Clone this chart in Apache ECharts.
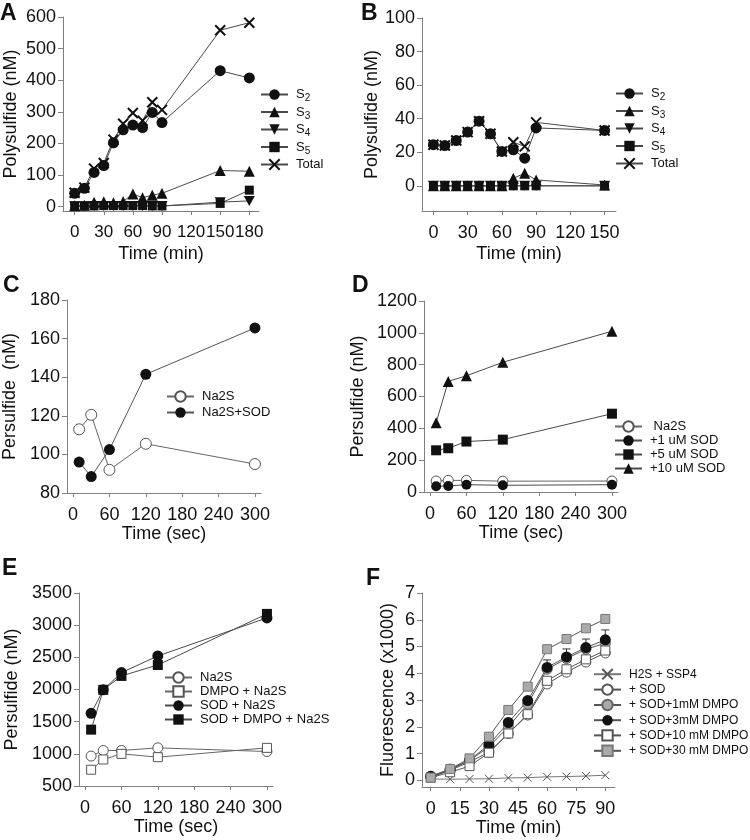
<!DOCTYPE html>
<html><head><meta charset="utf-8">
<script src="https://cdn.jsdelivr.net/npm/echarts@6/dist/echarts.min.js"></script>
<style>html,body{margin:0;padding:0;background:#fff}#c{width:750px;height:840px}</style>
</head><body><div id="c"></div>
<script>
// ---------- DATA ----------
const timeA = [0,10,20,30,40,50,60,70,80,90,150,180];
const A_S2 = [42,58,108,130,202,243,258,250,298,266,430,407];
const A_S3 = [3,4,14,15,12,16,40,28,36,42,114,112];
const A_S4 = [1,1,2,2,2,2,2,2,2,2,14,18];
const A_S5 = [2,2,2,3,3,3,3,3,2,2,10,52];
const A_Total = [44,60,120,138,212,262,296,272,330,306,558,582];

const timeB = [0,10,20,30,40,50,60,70,80,90,150];
const B_S2 = [24.5,24,27,32,38.5,31,20.5,21.5,16.5,34.5,33];
const B_S3 = [0,0,0,0,0,0,0,4.5,7.5,3.5,0.5];
const B_S4 = [0,0,0,0,0,0,0,0,0,0,0];
const B_S5 = [0,0,0,0,0,0,0,0,0,0,0];
const B_Total = [24.5,24,27,32,38.5,31,20.5,26,23.5,37.8,33];

const timeSec = [10,30,60,120,300];
const C_Na2S = [113,120.5,92,105.5,95];
const C_Na2S_SOD = [96,88.5,102.5,141.5,165.5];

const D_Na2S = [69,73,73,68,69];
const D_SOD1 = [36,38,46,42,46];
const D_SOD5 = [262,275,317,329,492];
const D_SOD10 = [435,695,730,815,1010];

const E_Na2S = [965,1052,1052,1093,1036];
const E_DMPO = [753,912,1000,948,1093];
const E_SOD = [1629,1995,2263,2521,3113];
const E_SOD_DMPO = [1376,1995,2211,2381,3175];

const timeF = [0,10,20,30,40,50,60,70,80,90];
const F_H2S = [0.05,0.04,0.05,0.06,0.09,0.10,0.13,0.14,0.16,0.19];
const F_SOD = [0.12,0.37,0.69,1.05,1.75,2.44,3.6,4.04,4.42,4.76];
const F_1mM = [0.15,0.42,0.74,1.25,2.0,2.85,4.15,4.55,4.9,5.12];
const F_3mM = [0.15,0.4,0.75,1.33,2.16,2.98,4.22,4.61,4.96,5.25];
const F_10mM = [0.1,0.3,0.53,1.03,1.75,2.47,3.72,4.15,4.52,4.85];
const F_30mM = [0.1,0.42,0.82,1.63,2.63,3.5,4.9,5.28,5.68,6.03];
const F_3mM_err = [0,0,0,0,0,0,0.28,0.3,0.32,0.37];

// tick labels
const ticksA_x = [0,30,60,90,120,150,180];
const ticksA_y = [0,100,200,300,400,500,600];
const ticksB_x = [0,30,60,90,120,150];
const ticksB_y = [0,20,40,60,80,100];
const ticksSec = [0,60,120,180,240,300];
const ticksC_y = [80,100,120,140,160,180];
const ticksD_y = [0,200,400,600,800,1000,1200];
const ticksE_y = [500,1000,1500,2000,2500,3000,3500];
const ticksF_x = [0,15,30,45,60,75,90];
const ticksF_y = [0,1,2,3,4,5,6,7];

// ---------- STYLE ----------
const FONT = 'Liberation Sans, Arial, Helvetica, sans-serif';
const AX = '#808080';
const LINE = '#4a4a4a';
const zip = (xs, ys) => xs.map((x, i) => [x, ys[i]]);
const DOWN_TRI = 'path://M0,0L10,0L5,9Z';
const XMARK = 'path://M0,0L10,10M10,0L0,10';
const plain = v => String(v);

function xAxis(grid, min, max, ticks, name, gap, fs) {
  return {
    type: 'value', gridIndex: grid, min, max,
    name, nameLocation: 'middle', nameGap: gap,
    nameTextStyle: {fontSize: 18, color: '#111', fontFamily: FONT},
    axisLine: {show: true, onZero: false, lineStyle: {color: AX, width: 1}},
    axisTick: {show: true, length: 4, customValues: ticks, lineStyle: {color: AX}},
    axisLabel: {customValues: ticks, formatter: plain, hideOverlap: false, showMinLabel: true, showMaxLabel: true,
      fontSize: fs || 18, color: '#111', fontFamily: FONT, margin: 13},
    splitLine: {show: false}
  };
}
function yAxis(grid, min, max, ticks, name, gap) {
  return {
    type: 'value', gridIndex: grid, min, max,
    name, nameLocation: 'middle', nameGap: gap, nameRotate: 90,
    nameTextStyle: {fontSize: 18, color: '#111', fontFamily: FONT},
    axisLine: {show: true, onZero: false, lineStyle: {color: AX, width: 1}},
    axisTick: {show: true, length: 5, customValues: ticks, lineStyle: {color: AX}},
    axisLabel: {customValues: ticks, formatter: plain, hideOverlap: false, fontSize: 18, color: '#111', fontFamily: FONT, margin: 7},
    splitLine: {show: false}
  };
}
function ser(name, idx, xs, ys, symbol, size, fill, stroke, bw, lineColor) {
  return {
    type: 'line', name, xAxisIndex: idx, yAxisIndex: idx,
    data: zip(xs, ys), symbol, symbolSize: size, showSymbol: true,
    lineStyle: {color: lineColor || LINE, width: 1},
    itemStyle: {color: fill, borderColor: stroke, borderWidth: bw},
    emphasis: {disabled: true}, animation: false, z: 3
  };
}
const black = '#111';

const series = [
  // A
  ser('A:S5', 0, timeA, A_S5, 'rect', 9, black, black, 0),
  ser('A:S4', 0, timeA, A_S4, DOWN_TRI, [11, 10], black, black, 0),
  ser('A:S3', 0, timeA, A_S3, 'triangle', 11, black, black, 0),
  ser('A:S2', 0, timeA, A_S2, 'circle', 11, black, black, 0),
  ser('A:Total', 0, timeA, A_Total, XMARK, 10, 'rgba(0,0,0,0)', black, 2),
  // B
  ser('B:S5', 1, timeB, B_S5, 'rect', 9, black, black, 0),
  ser('B:S4', 1, timeB, B_S4, DOWN_TRI, [11, 10], black, black, 0),
  ser('B:S3', 1, timeB, B_S3, 'triangle', 11, black, black, 0),
  ser('B:S2', 1, timeB, B_S2, 'circle', 11, black, black, 0),
  ser('B:Total', 1, timeB, B_Total, XMARK, 10, 'rgba(0,0,0,0)', black, 2),
  // C
  ser('C:Na2S', 2, timeSec, C_Na2S, 'circle', 11, '#fff', '#555', 1, '#666'),
  ser('C:Na2S+SOD', 2, timeSec, C_Na2S_SOD, 'circle', 11, black, black, 0, '#555'),
  // D
  ser('D: Na2S', 3, timeSec, D_Na2S, 'circle', 10, '#fff', '#555', 1, '#666'),
  ser('D:+1 uM SOD', 3, timeSec, D_SOD1, 'circle', 10, black, black, 0),
  ser('D:+5 uM SOD', 3, timeSec, D_SOD5, 'rect', 10, black, black, 0),
  ser('D:+10 uM SOD', 3, timeSec, D_SOD10, 'triangle', 11, black, black, 0),
  // E
  ser('E:Na2S', 4, timeSec, E_Na2S, 'circle', 10, '#fff', '#555', 1, '#666'),
  ser('E:DMPO + Na2S', 4, timeSec, E_DMPO, 'rect', 9, '#fff', '#555', 1, '#666'),
  ser('E:SOD + Na2S', 4, timeSec, E_SOD, 'circle', 11, black, black, 0),
  ser('E:SOD + DMPO + Na2S', 4, timeSec, E_SOD_DMPO, 'rect', 10, black, black, 0),
  // F
  ser('F:H2S + SSP4', 5, timeF, F_H2S, XMARK, 8, 'rgba(0,0,0,0)', '#555', 1, '#777'),
  ser('F:+ SOD', 5, timeF, F_SOD, 'circle', 10, '#fff', '#555', 1, '#555'),
  ser('F:+ SOD+1mM DMPO', 5, timeF, F_1mM, 'circle', 10, '#aaa', '#666', 1, '#555'),
  ser('F:+ SOD+3mM DMPO', 5, timeF, F_3mM, 'circle', 11, black, black, 0, '#555'),
  ser('F:+ SOD+10 mM DMPO', 5, timeF, F_10mM, 'rect', 9, '#fff', '#555', 1, '#555'),
  ser('F:+ SOD+30 mM DMPO', 5, timeF, F_30mM, 'rect', 9, '#aaa', '#777', 1, '#555'),
  {
    type: 'custom', xAxisIndex: 5, yAxisIndex: 5, z: 2, animation: false,
    data: timeF.map((t, i) => [t, F_3mM[i], F_3mM[i] + F_3mM_err[i]]).filter(d => d[2] > d[1]),
    renderItem: function (params, api) {
      const p0 = api.coord([api.value(0), api.value(1)]);
      const p1 = api.coord([api.value(0), api.value(2)]);
      return {type: 'group', children: [
        {type: 'line', shape: {x1: p0[0], y1: p0[1], x2: p1[0], y2: p1[1]}, style: {stroke: '#333', lineWidth: 1}},
        {type: 'line', shape: {x1: p1[0] - 4, y1: p1[1], x2: p1[0] + 4, y2: p1[1]}, style: {stroke: '#333', lineWidth: 1}}
      ]};
    }
  }
];

function legend(names, left, top, gap, fontSize) {
  return {
    left, top, padding: 0, orient: 'vertical', itemGap: gap, itemWidth: 27, itemHeight: 13,
    selectedMode: false, data: names,
    formatter: function (n) {
      return n.slice(n.indexOf(':') + 1);
    },
    textStyle: {fontSize, color: '#111', fontFamily: FONT, padding: [0, 0, 0, 3],
      rich: {m: {fontSize: 13, fontFamily: FONT, color: '#111'}, s: {fontSize: 10, fontFamily: FONT, color: '#111', padding: [8, 0, 0, 0]}}}
  };
}
function subFormat(n) {
  const t = n.slice(n.indexOf(':') + 1);
  if (/^S\d$/.test(t)) return '{m|S}{s|' + t.slice(1) + '}';
  return '{m|' + t + '}';
}

const legends = [
  Object.assign(legend(['A:S2','A:S3','A:S4','A:S5','A:Total'], 260, 88, 2, 13), {formatter: subFormat}),
  Object.assign(legend(['B:S2','B:S3','B:S4','B:S5','B:Total'], 615, 87, 2, 13), {formatter: subFormat}),
  legend(['C:Na2S','C:Na2S+SOD'], 166, 390, 3, 13),
  legend(['D: Na2S','D:+1 uM SOD','D:+5 uM SOD','D:+10 uM SOD'], 614, 420, 1, 13),
  legend(['E:Na2S','E:DMPO + Na2S','E:SOD + Na2S','E:SOD + DMPO + Na2S'], 164, 671, 1, 13),
  legend(['F:H2S + SSP4','F:+ SOD','F:+ SOD+1mM DMPO','F:+ SOD+3mM DMPO','F:+ SOD+10 mM DMPO','F:+ SOD+30 mM DMPO'], 593, 668, 3, 12)
];

const letter = (t, x, y) => ({type: 'text', left: x, top: y, style: {text: t, font: 'bold 23px ' + FONT, fill: '#111'}});

const option = {
  backgroundColor: '#fff',
  animation: false,
  textStyle: {fontFamily: FONT},
  grid: [
    {left: 63, top: 17, width: 196, height: 194},
    {left: 422, top: 18, width: 194, height: 193},
    {left: 67, top: 300, width: 194, height: 193},
    {left: 424, top: 301, width: 194, height: 191},
    {left: 79, top: 593, width: 194, height: 193},
    {left: 422, top: 593, width: 193, height: 194}
  ],
  xAxis: [
    xAxis(0, -12, 190, ticksA_x, 'Time (min)', 34, 17),
    xAxis(1, -10, 160, ticksB_x, 'Time (min)', 34),
    xAxis(2, -10, 310, ticksSec, 'Time (sec)', 29),
    xAxis(3, -10, 310, ticksSec, 'Time (sec)', 29),
    xAxis(4, -10, 310, ticksSec, 'Time (sec)', 28),
    xAxis(5, -4.5, 95, ticksF_x, 'Time (min)', 28)
  ],
  yAxis: [
    yAxis(0, -14, 600, ticksA_y, 'Polysulfide (nM)', 43),
    yAxis(1, -15, 100, ticksB_y, 'Polysulfide (nM)', 36),
    yAxis(2, 80, 180, ticksC_y, 'Persulfide  (nM)', 48),
    yAxis(3, 0, 1200, ticksD_y, 'Persulfide (nM)', 57),
    yAxis(4, 500, 3500, ticksE_y, 'Persulfide (nM)', 58),
    yAxis(5, -0.25, 7, ticksF_y, 'Fluorescence (x1000)', 25)
  ],
  legend: legends,
  series,
  graphic: [
    letter('A', 0, 2), letter('B', 361, 2), letter('C', 3, 274),
    letter('D', 352, 274), letter('E', 2, 557), letter('F', 366, 567)
  ]
};
const chart = echarts.init(document.getElementById('c'), null, {renderer: 'canvas'});
chart.setOption(option);
</script></body></html>
